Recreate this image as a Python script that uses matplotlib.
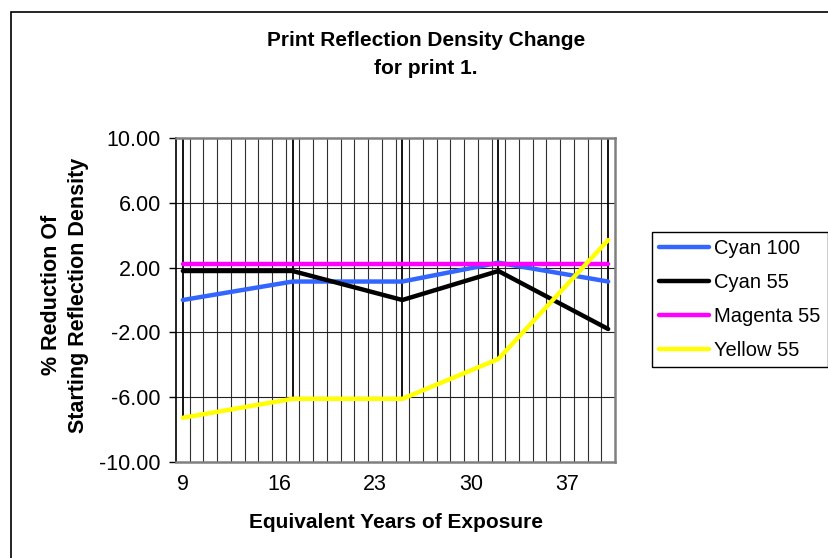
import numpy as np
import matplotlib
matplotlib.use("Agg")
import matplotlib.pyplot as plt
from matplotlib.lines import Line2D

plt.rcParams['font.family'] = ['Liberation Sans', 'DejaVu Sans']

# exposure years where prints were measured
years = [9, 17, 25, 32, 40]
cyan_100 = [0.00, 1.14, 1.14, 2.30, 1.14]
cyan_55 = [1.79, 1.79, 0.00, 1.79, -1.79]
magenta_55 = [2.25, 2.25, 2.25, 2.25, 2.25]
yellow_55 = [-7.27, -6.10, -6.10, -3.64, 3.70]

series_names = ['Cyan 100', 'Cyan 55', 'Magenta 55', 'Yellow 55']
series_colors = ['#3366FF', '#000000', '#FF00FF', '#FFFF00']

year_ticks = [9, 16, 23, 30, 37]
y_ticks = [-10, -6, -2, 2, 6, 10]

W, H = 829, 558
fig = plt.figure(figsize=(W / 100, H / 100), dpi=100)

# chart area border (only left/top fall inside the image)
fig.add_artist(plt.Rectangle((10.7 / W, -0.1), 2.0, (H - 11.7) / H + 0.1,
                             transform=fig.transFigure, fill=False,
                             edgecolor='black', linewidth=1.2))

ax = fig.add_axes([176 / W, 1 - 462 / H, 439 / W, 324 / H])

# category gridlines between each year
for xb in np.arange(9.5, 40.5, 1.0):
    ax.axvline(xb, color='#303030', linewidth=0.8, zorder=1)
for yv in y_ticks[1:-1]:
    ax.axhline(yv, color='#202020', linewidth=0.8, zorder=1)

all_series = [cyan_100, cyan_55, magenta_55, yellow_55]

# high-low lines at each measured year
lows = np.min(np.array(all_series), axis=0)
ax.vlines(years, lows, 10, color='black', linewidth=1.3, zorder=2)

for vals, name, col in zip(all_series, series_names, series_colors):
    ax.plot(years, vals, color=col, linewidth=3.2, label=name,
            solid_capstyle='round', solid_joinstyle='round', zorder=3)

ax.set_xlim(8.5, 40.5)
ax.set_ylim(-10, 10)
ax.set_xticks(year_ticks)
ax.set_xticklabels([str(v) for v in year_ticks])
ax.set_yticks(y_ticks)
ax.set_yticklabels(['%.2f' % v for v in y_ticks])
ax.tick_params(axis='x', length=0, pad=9, labelsize=15.5)
ax.tick_params(axis='y', length=5, width=1, pad=6, labelsize=15.5)

for side in ['top', 'right', 'bottom']:
    ax.spines[side].set_color('#808080')
    ax.spines[side].set_linewidth(1.8)
ax.spines['left'].set_color('black')
ax.spines['left'].set_linewidth(1.2)

fig.text(426 / W, 1 - 41 / H, 'Print Reflection Density Change',
         ha='center', va='center', fontsize=15, fontweight='bold')
fig.text(426 / W, 1 - 69 / H, 'for print 1.',
         ha='center', va='center', fontsize=15, fontweight='bold')

fig.text(65 / W, 1 - 295 / H, '% Reduction Of\nStarting Reflection Density',
         ha='center', va='center', rotation=90, fontsize=15.5,
         fontweight='bold', linespacing=1.38)

fig.text(396 / W, 1 - 523 / H, 'Equivalent Years of Exposure',
         ha='center', va='center', fontsize=15, fontweight='bold')

handles = [Line2D([], [], color=c, linewidth=3.2, solid_capstyle='round')
           for c in series_colors]
leg = fig.legend(handles, series_names, loc='upper left',
                 bbox_to_anchor=(651.7 / W, 1 - 232.3 / H),
                 fontsize=14.5, frameon=True, fancybox=False, shadow=False,
                 handlelength=2.5, handletextpad=0.25, labelspacing=0.74,
                 borderpad=0.35, borderaxespad=0)
leg.get_frame().set_edgecolor('black')
leg.get_frame().set_linewidth(1.0)
leg.get_frame().set_alpha(1)

fig.savefig('out.png', dpi=100)
